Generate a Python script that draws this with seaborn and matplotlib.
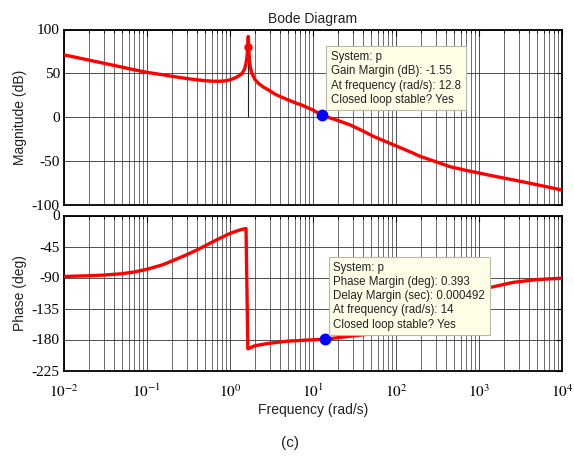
import matplotlib
matplotlib.use("Agg")
import matplotlib.pyplot as plt
import matplotlib.ticker as mticker
import seaborn as sns
import numpy as np

# ---------------- data ----------------
mag_freq = [0.01, 0.015, 0.02, 0.03, 0.05, 0.07, 0.1, 0.15, 0.2, 0.3, 0.4, 0.5,
            0.6, 0.7, 0.8, 0.9, 1.0, 1.1, 1.2, 1.3, 1.4, 1.5, 1.55, 1.6, 1.63,
            1.66, 1.69, 1.72, 1.76, 1.83, 2.0, 2.2, 2.5, 2.9, 3.5, 4.6, 6.0, 7.3,
            10, 12.8, 16, 20, 28, 40, 53, 75, 100, 150, 196, 300, 455, 700, 1000,
            1500, 2630, 4000, 6000, 10000]
mag_db = [71, 67.5, 65, 61.5, 57, 54, 51, 48.5, 46.5, 44, 42.5, 41.5,
          41, 40.8, 41, 41.5, 42.5, 44, 45.5, 47.5, 50, 55, 60, 68, 78,
          92, 75, 64, 57, 50, 43, 38.5, 34.5, 31, 26, 21, 16.5, 13.7,
          8, 2, -1, -4, -9, -16, -22, -28, -33, -40, -45, -51, -57, -61, -64,
          -67.5, -72, -75.5, -79, -83.5]

ph_freq = [0.01, 0.02, 0.03, 0.05, 0.07, 0.1, 0.15, 0.2, 0.3, 0.4, 0.5, 0.7,
           1.0, 1.2, 1.4, 1.56, 1.64, 2.0, 2.77, 4.8, 8, 14, 21, 45, 100, 200,
           400, 800, 1300, 2600, 5000, 10000]
ph_deg = [-88.5, -87.5, -86.5, -84.5, -82, -78, -72, -66, -57, -50, -44, -35,
          -26, -22.5, -20, -19, -193.5, -189, -186, -182.5, -181, -179.6, -177,
          -172.5, -164, -150, -130, -113, -105, -97, -93, -91]

peak_freq = [1.66]
peak_db = [80.3]
gm_freq = [12.8]
gm_db = [2]
pm_freq = [14]
pm_deg = [-179.6]

mag_ticks = [-100, -50, 0, 50, 100]
ph_ticks = [-225, -180, -135, -90, -45, 0]

title = "Bode Diagram"
mag_label = "Magnitude (dB)"
ph_label = "Phase (deg)"
freq_label = "Frequency (rad/s)"
caption = "(c)"
gm_text = "System: p\nGain Margin (dB): -1.55\nAt frequency (rad/s): 12.8\nClosed loop stable? Yes"
pm_text = ("System: p\nPhase Margin (deg): 0.393\nDelay Margin (sec): 0.000492\n"
           "At frequency (rad/s): 14\nClosed loop stable? Yes")

# ---------------- style ----------------
sns.set_theme(style="white")
plt.rcParams['font.family'] = ['Liberation Sans', 'DejaVu Sans']
plt.rcParams['mathtext.fontset'] = 'stix'
plt.rcParams['mathtext.default'] = 'rm'
plt.rcParams['axes.unicode_minus'] = False

fig = plt.figure(figsize=(5.74, 4.57), dpi=100)
W, H = 574, 457
L, R = 64, 562
ax1 = fig.add_axes([L / W, 1 - 204.5 / H, (R - L) / W, (204.5 - 29.5) / H])
ax2 = fig.add_axes([L / W, 1 - 370.5 / H, (R - L) / W, (370.5 - 215.5) / H])

red = '#ff0000'
sns.lineplot(x=mag_freq, y=mag_db, ax=ax1, color=red, lw=2.4, estimator=None,
             sort=False, zorder=5)
sns.lineplot(x=ph_freq, y=ph_deg, ax=ax2, color=red, lw=2.4, estimator=None,
             sort=False, zorder=5)

# gain margin stem at phase crossover
ax1.vlines(peak_freq, 0, peak_db, color='#222222', lw=0.8, zorder=4)
ax1.plot(peak_freq, peak_db, 'o', color=red, ms=5, zorder=6)
ax1.plot(gm_freq, gm_db, 'o', color='#0000ff', ms=7.5, zorder=7)
ax2.plot(pm_freq, pm_deg, 'o', color='#0000ff', ms=7.5, zorder=7)

serif = ['Liberation Serif', 'DejaVu Serif']
for ax, yt, lims in [(ax1, mag_ticks, (-100, 100)), (ax2, ph_ticks, (-225, 0))]:
    ax.set_xscale('log')
    ax.set_xlim(1e-2, 1e4)
    ax.set_ylim(*lims)
    ax.set_yticks(yt)
    ax.xaxis.set_major_locator(mticker.LogLocator(base=10, numticks=20))
    ax.xaxis.set_minor_locator(mticker.LogLocator(base=10, subs=np.arange(2, 10), numticks=100))
    ax.grid(True, which='major', axis='both', color='#333333', lw=0.6)
    ax.grid(True, which='minor', axis='x', color='#333333', lw=0.5)
    ax.set_axisbelow(True)
    ax.tick_params(which='both', direction='in', top=True, right=True, colors='black')
    ax.tick_params(which='major', length=4, width=0.8, labelsize=11, pad=3)
    ax.tick_params(which='minor', length=2.5, width=0.6)
    for lab in ax.get_yticklabels():
        lab.set_fontfamily(serif)
    for sp in ax.spines.values():
        sp.set_color('black')
        sp.set_linewidth(1.3)
    ax.set_xlabel('')

ax1.xaxis.set_major_formatter(mticker.NullFormatter())
ax2.xaxis.set_major_formatter(mticker.FuncFormatter(lambda v, p: r'$10^{%d}$' % round(np.log10(v))))
ax2.tick_params(axis='x', which='major', pad=9)

ax1.set_ylabel(mag_label, fontsize=10, color='#222222')
ax2.set_ylabel(ph_label, fontsize=10, color='#222222')
ax1.yaxis.set_label_coords(-0.075, 0.5)
ax2.yaxis.set_label_coords(-0.075, 0.5)
ax2.set_xlabel(freq_label, fontsize=10, color='#222222', labelpad=2)
ax1.set_title(title, fontsize=10, color='#222222', pad=5)

box = dict(boxstyle='square,pad=0.4', facecolor='#ffffe8', edgecolor='#b8b8a8', lw=0.8)
ax1.text(0.536, 0.877, gm_text, transform=ax1.transAxes, ha='left', va='top',
         fontsize=8.3, color='#222222', linespacing=1.25, bbox=box, zorder=10)
ax2.text(0.541, 0.702, pm_text, transform=ax2.transAxes, ha='left', va='top',
         fontsize=8.3, color='#222222', linespacing=1.25, bbox=box, zorder=10)

fig.text(290 / W, 1 - 443 / H, caption, ha='center', va='center', fontsize=11, color='#222222')

fig.savefig('out.png', dpi=100)
